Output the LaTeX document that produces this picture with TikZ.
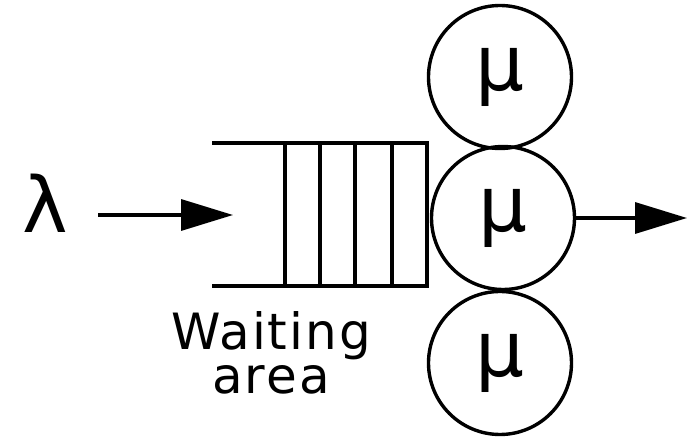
\documentclass[tikz,border=0pt]{standalone}
\usepackage{fontspec}
\setmainfont{DejaVu Sans}
\usetikzlibrary{arrows.meta}
\tikzset{
  line/.style={line width=3.4pt, black},
  server/.style={circle, draw, line width=3.4pt, minimum size=143pt, inner sep=0pt,
    font=\fontsize{77}{80}\selectfont},
  flow/.style={line width=3.4pt, -{Triangle[length=52pt, width=31pt]}},
}
\begin{document}
\begin{tikzpicture}[x=1pt, y=-1pt]
\useasboundingbox (0,0) rectangle (697,438);
% arrival rate
\node[font=\fontsize{77}{80}\selectfont, inner sep=0pt] (lam) at (45,203) {λ};
% queue
\coordinate (qtl) at (212,143);
\coordinate (qtr) at (427,143);
\coordinate (qbr) at (427,286);
\coordinate (qbl) at (212,286);
\draw[line] (qtl) -- (qtr) -- (qbr) -- (qbl);
\foreach \x in {285,320,355,392} \draw[line] (\x,143) -- (\x,286);
% servers
\node[server] (s1) at (500,77) {μ};
\node[server] (s2) at (503,218) {μ};
\node[server] (s3) at (500,363) {μ};
% arrows
\coordinate (inS) at (98,215);
\coordinate (inE) at (233,215);
\draw[flow] (inS) -- (inE);
\coordinate (out) at (687,218);
\draw[flow] (s2.east) -- (out);
% label
\node[align=center, font=\fontsize{50}{44}\selectfont\addfontfeatures{LetterSpace=4}, inner sep=0pt, anchor=north] (wait) at (271,311) {Waiting\\area};
\end{tikzpicture}
\end{document}
